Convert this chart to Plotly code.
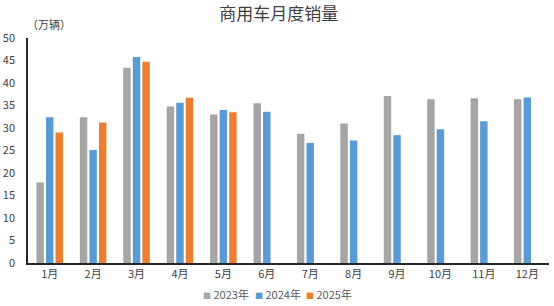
import plotly.graph_objects as go

months = ["1月", "2月", "3月", "4月", "5月", "6月", "7月", "8月", "9月", "10月", "11月", "12月"]
sales_2023 = [17.9, 32.4, 43.4, 34.8, 33.0, 35.5, 28.7, 31.0, 37.1, 36.4, 36.6, 36.4]
sales_2024 = [32.4, 25.1, 45.8, 35.6, 34.0, 33.6, 26.7, 27.2, 28.4, 29.7, 31.5, 36.8]
sales_2025 = [29.0, 31.2, 44.7, 36.7, 33.5, None, None, None, None, None, None, None]
series_names = ["2023年", "2024年", "2025年"]
colors = ["#A5A5A5", "#5B9BD5", "#ED7D31"]

FONT = "Noto Sans CJK SC"

fig = go.Figure()
for name, vals, c in zip(series_names, [sales_2023, sales_2024, sales_2025], colors):
    fig.add_trace(go.Bar(x=months, y=vals, name=name, showlegend=False,
                         marker=dict(color=c, line=dict(width=0))))

fig.update_layout(
    width=554, height=306,
    margin=dict(l=28, r=5, t=38, b=43, autoexpand=False),
    paper_bgcolor="white", plot_bgcolor="white",
    barmode="group", bargap=0.34, bargroupgap=0.22,
    font=dict(family=FONT, size=11, color="#404040"),
    title=dict(text="商用车月度销量", x=0.503, xanchor="center", y=0.975, yanchor="top",
               font=dict(family=FONT, size=17, color="#404040")),
    showlegend=False,
    xaxis=dict(showline=True, linecolor="#262626", linewidth=1.5, ticks="",
               tickfont=dict(family=FONT, size=11, color="#404040"), showgrid=False),
    yaxis=dict(range=[0, 50], dtick=5, showline=True, linecolor="#262626", linewidth=1.5,
               showgrid=False, zeroline=False, ticks="", ticklabelstandoff=9,
               tickfont=dict(family=FONT, size=11, color="#404040")),
)
fig.add_annotation(text="（万辆）", xref="paper", yref="paper", x=-0.005, y=1.02,
                   xanchor="left", yanchor="bottom", showarrow=False,
                   font=dict(family=FONT, size=11, color="#404040"))

# legend drawn as text entries
legend_x = [0.333, 0.432, 0.530]
for name, c, lx in zip(series_names, colors, legend_x):
    fig.add_annotation(text=f'<span style="color:{c};font-size:8px">■</span> {name}',
                       xref="paper", yref="paper", x=lx, y=-0.138,
                       xanchor="left", yanchor="middle", showarrow=False,
                       font=dict(family=FONT, size=11, color="#595959"))

fig.write_html("out.html")
